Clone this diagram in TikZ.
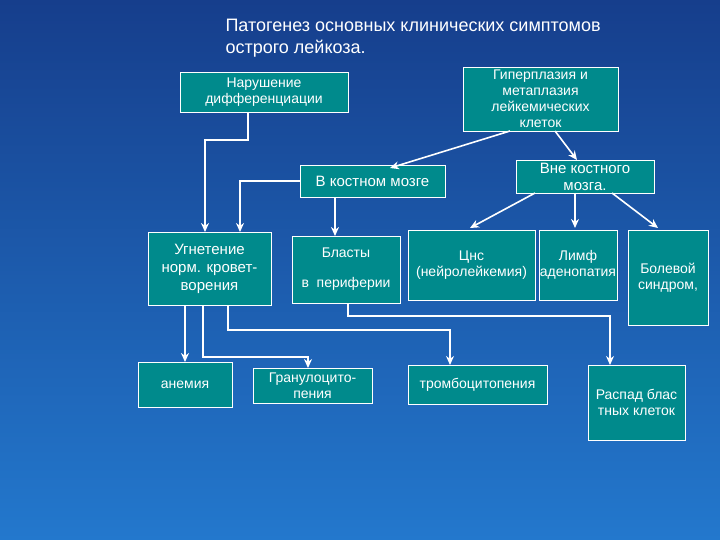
\documentclass[tikz,border=0pt]{standalone}
\usepackage{fontspec}
\setmainfont{Liberation Sans}
\usetikzlibrary{arrows.meta}
\definecolor{bgtop}{RGB}{22,62,140}
\definecolor{bgbot}{RGB}{35,120,205}
\definecolor{boxfill}{RGB}{0,138,140}
\begin{document}
\begin{tikzpicture}[x=1pt,y=-1pt,
  bx/.style={draw=white,line width=0.9pt,fill=boxfill,text=white,font=\fontsize{14}{16}\selectfont,align=center,inner sep=1pt},
  ar/.style={draw=white,line width=1.6pt,-{Stealth[length=9pt,width=8pt]}},
  ln/.style={draw=white,line width=1.6pt}]
\shade[top color=bgtop,bottom color=bgbot] (0,0) rectangle (720,540);
\useasboundingbox (0,0) rectangle (720,540);
\node[text=white,anchor=north west,align=left,font=\fontsize{18}{22}\selectfont] (title) at (222,16) {Патогенез основных клинических симптомов\\острого лейкоза.};
\path[bx] (180,72) rectangle (348,112) node[midway] (nar) {Нарушение\\дифференциации};
\path[bx] (463,67) rectangle (618,131) node[midway] (gip) {Гиперплазия и\\метаплазия\\лейкемических\\клеток};
\path[bx] (300,165) rectangle (445,197) node[midway,font=\fontsize{15}{17}\selectfont] (vk) {В костном мозге};
\path[bx] (516,160) rectangle (654,193) node[midway,font=\fontsize{15}{17}\selectfont] (vne) {Вне костного\\мозга.};
\path[bx] (148,232) rectangle (271,305) node[midway,font=\fontsize{15}{18}\selectfont] (ug) {Угнетение\\норм. кровет-\\ворения};
\path[bx] (292,236) rectangle (400,303) node[midway] (bl) {Бласты\\[14pt]в\ \ периферии};
\path[bx] (408,230) rectangle (535,300) node[midway] (cns) {Цнс\\(нейролейкемия)};
\path[bx] (539,230) rectangle (617,300) node[midway] (lim) {Лимф\\аденопатия};
\path[bx] (628,230) rectangle (708,325) node[midway] (bol) {Болевой\\синдром,};
\path[bx] (138,362) rectangle (232,407) node[midway] (an) {анемия};
\path[bx] (253,368) rectangle (372,403) node[midway] (gr) {Гранулоцито-\\пения};
\path[bx] (408,365) rectangle (547,404) node[midway] (tr) {тромбоцитопения};
\path[bx] (588,365) rectangle (685,440) node[midway] (ras) {Распад блас\\тных клеток};
% connectors
\draw[ar] (248,112) -- (248,140) -- (205,140) -- (205,232);
\draw[ar] (300,181) -- (240,181) -- (240,232);
\draw[ar] (335,197) -- (335,236);
\draw[ar] (510,131) -- (390,168);
\draw[ar] (555,131) -- (577,160);
\draw[ar] (535,193) -- (470,228);
\draw[ar] (575,193) -- (575,228);
\draw[ar] (612,193) -- (658,228);
\draw[ar] (185,305) -- (185,362);
\draw[ar] (203,305) -- (203,357) -- (308,357) -- (308,368);
\draw[ar] (228,305) -- (228,330) -- (450,330) -- (450,365);
\draw[ar] (348,303) -- (348,316) -- (610,316) -- (610,365);
\end{tikzpicture}
\end{document}
